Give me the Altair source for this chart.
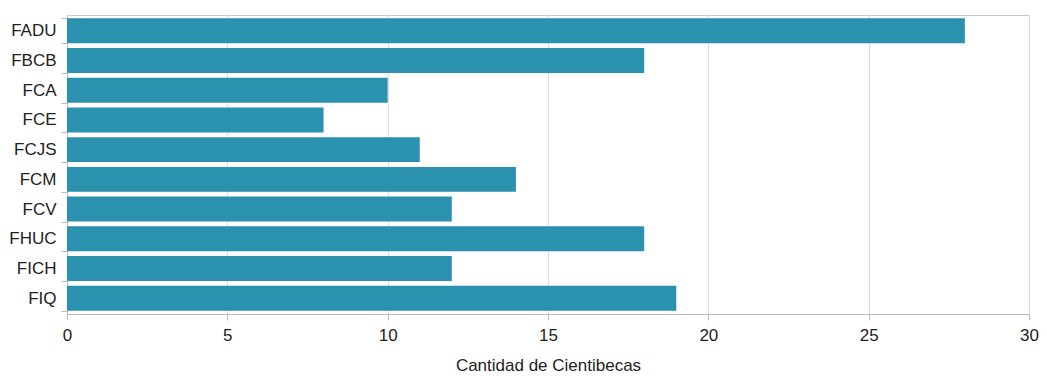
import altair as alt
import pandas as pd

facultades = ["FADU", "FBCB", "FCA", "FCE", "FCJS", "FCM", "FCV", "FHUC", "FICH", "FIQ"]
cientibecas = [28, 18, 10, 8, 11, 14, 12, 18, 12, 19]

df = pd.DataFrame({"Facultad": facultades, "Cantidad": cientibecas})

FONT = "Liberation Sans"

chart = (
    alt.Chart(df)
    .mark_bar(color="#2a91ae")
    .encode(
        y=alt.Y(
            "Facultad:N",
            sort=facultades,
            title=None,
            scale=alt.Scale(paddingInner=0.16, paddingOuter=0.11),
            axis=alt.Axis(
                labelFont=FONT,
                labelFontSize=17,
                labelColor="#222222",
                labelPadding=5,
                tickSize=6,
                tickColor="#bbbbbb",
                domainColor="#bbbbbb",
                tickBand="extent",
                grid=False,
            ),
        ),
        x=alt.X(
            "Cantidad:Q",
            title="Cantidad de Cientibecas",
            scale=alt.Scale(domain=[0, 30], nice=False),
            axis=alt.Axis(
                values=[0, 5, 10, 15, 20, 25, 30],
                format="d",
                labelFont=FONT,
                labelFontSize=17,
                labelColor="#222222",
                labelPadding=7,
                labelFlush=False,
                tickSize=6,
                tickColor="#bbbbbb",
                domainColor="#bbbbbb",
                gridColor="#dddddd",
                titleFont=FONT,
                titleFontSize=17,
                titleFontWeight="normal",
                titleColor="#222222",
                titlePadding=14,
            ),
        ),
    )
    .properties(
        width=962,
        height=299,
        autosize=alt.AutoSizeParams(type="none"),
        padding={"left": 59, "top": 7, "right": 10, "bottom": 60},
    )
    .configure_view(stroke="#cccccc", strokeWidth=1)
)

chart.save("out.html", embed_options={"renderer": "svg", "actions": False})
